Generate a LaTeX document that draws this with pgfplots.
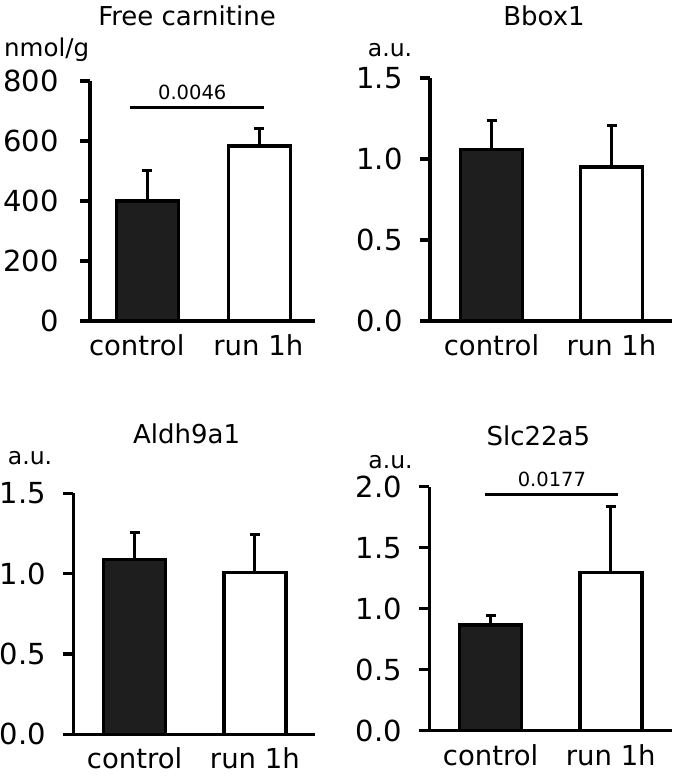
\documentclass[border=0pt]{standalone}
\usepackage{pgfplots}
\pgfplotsset{compat=1.18}
\usepackage{fontspec}
\setmainfont{DejaVu Sans}
\definecolor{barfill}{HTML}{1E1E1E}
\pgfplotsset{
  panel/.style={
    scale only axis, axis x line=bottom, axis y line=left,
    axis line style={-, line width=3.5pt, black},
    clip=false, ymin=0,
    xtick={0,1}, xticklabels={control, run 1h},
    major x tick style={draw=none},
    tick align=outside, major tick length=10pt,
    major y tick style={line width=3.5pt, black},
    yticklabel style={font=\fontsize{29}{31}\selectfont, xshift=-14pt},
    xticklabel style={font=\fontsize{27.5}{30}\selectfont},
    /pgf/number format/assume math mode=true,
  },
  onedec/.style={yticklabel style={/pgf/number format/.cd, fixed, fixed zerofill, precision=1}},
  bars/.style={ybar, bar width=62pt, bar shift=0pt, draw=black, line width=3.5pt,
    error bars/y dir=plus, error bars/y explicit,
    error bars/error bar style={line width=3pt, black},
    error bars/error mark options={rotate=90, mark size=5pt, line width=3pt, black}},
}
\begin{document}
\begin{tikzpicture}
\useasboundingbox (0,0) rectangle (675pt,778pt);
% Panel 1: Free carnitine
\begin{axis}[panel, at={(90pt,457pt)}, width=225pt, height=240pt,
  xmin=-0.513, xmax=1.496, ymax=800, ytick={0,200,400,600,800},
  xtick={-0.096,0.99}, yticklabel style={xshift=-4pt}]
\addplot[bars, fill=barfill] coordinates {(0,400) +- (0,100)};
\addplot[bars, fill=white] coordinates {(1,583) +- (0,60)};
\addplot[line width=3pt, black, no marks] coordinates {(-0.156,713) (1.04,713)};
\node[font=\fontsize{19.5}{20}\selectfont] at (axis cs:0.40,761) {0.0046};
\end{axis}
% Panel 2: Bbox1
\begin{axis}[panel, onedec, at={(430pt,457pt)}, width=242pt, height=243pt,
  xmin=-0.5125, xmax=1.504, ymax=1.5, ytick={0,0.5,1,1.5}]
\addplot[bars, fill=barfill] coordinates {(0,1.06) +- (0,0.175)};
\addplot[bars, fill=white] coordinates {(1,0.952) +- (0,0.252)};
\end{axis}
% Panel 3: Aldh9a1
\begin{axis}[panel, onedec, at={(73.3pt,43.7pt)}, width=241.7pt, height=241pt,
  xmin=-0.51, xmax=1.5, ymax=1.5, ytick={0,0.5,1,1.5}]
\addplot[bars, fill=barfill] coordinates {(0,1.089) +- (0,0.166)};
\addplot[bars, fill=white] coordinates {(1,1.006) +- (0,0.24)};
\end{axis}
% Panel 4: Slc22a5
\begin{axis}[panel, onedec, at={(429.3pt,47.3pt)}, width=242.4pt, height=244pt,
  xmin=-0.51, xmax=1.507, ymax=2.0, ytick={0,0.5,1,1.5,2}]
\addplot[bars, fill=barfill] coordinates {(0,0.866) +- (0,0.082)};
\addplot[bars, fill=white] coordinates {(1,1.295) +- (0,0.541)};
\addplot[line width=3pt, black, no marks] coordinates {(-0.05,1.94) (1.06,1.94)};
\node[font=\fontsize{19.5}{20}\selectfont] at (axis cs:0.51,2.06) {0.0177};
\end{axis}
% titles and units
\node[font=\fontsize{26}{28}\selectfont] at (187pt,762pt) {Free carnitine};
\node[font=\fontsize{26}{28}\selectfont] at (544pt,762pt) {Bbox1};
\node[font=\fontsize{26}{28}\selectfont] at (186.7pt,344pt) {Aldh9a1};
\node[font=\fontsize{26}{28}\selectfont] at (538.3pt,342pt) {Slc22a5};
\node[font=\fontsize{24.5}{26}\selectfont] at (46.7pt,728pt) {nmol/g};
\node[font=\fontsize{23.5}{26}\selectfont] at (390pt,728pt) {a.u.};
\node[font=\fontsize{23.5}{26}\selectfont] at (30pt,320pt) {a.u.};
\node[font=\fontsize{23.5}{26}\selectfont] at (390.5pt,316pt) {a.u.};
\end{tikzpicture}
\end{document}
